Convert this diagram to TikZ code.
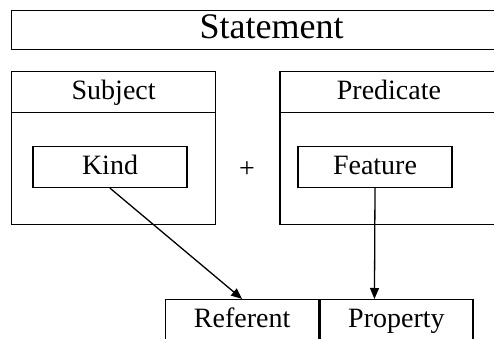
\documentclass[tikz,border=0pt]{standalone}
\usepackage{fontspec}
\setmainfont{Liberation Serif}
\usetikzlibrary{arrows.meta, positioning}

\begin{document}
\begin{tikzpicture}[
  x=1pt, y=-1pt,
  box/.style={draw, line width=1.3pt, inner sep=0pt, align=center,
              font=\fontsize{28}{32}\selectfont,
              text height=21pt, text depth=5.5pt},
  headbox/.style={box, minimum height=41pt},
  partbox/.style={box, minimum width=204pt, minimum height=153pt},
  termbox/.style={box, minimum width=154pt, minimum height=41pt},
  arr/.style={-{Triangle[length=11pt,width=9pt]}, line width=1.3pt},
  node distance=0pt
]
\useasboundingbox (0,0) rectangle (494,339);
\clip (0,0) rectangle (494,339);

\node[headbox, anchor=north west, minimum width=520pt, minimum height=39pt,
      font=\fontsize{36}{40}\selectfont, text height=24pt, text depth=7pt]
  (stmt) at (11,10) {Statement};

% subject and predicate with their title bars
\node[partbox, anchor=north west] (subj) at (11,71) {};
\node[headbox, minimum width=204pt, anchor=north] (subjhead) at (subj.north) {Subject};
\node[partbox, right=63pt of subj, minimum width=218pt] (pred) {};
\node[headbox, minimum width=218pt, anchor=north] (predhead) at (pred.north) {Predicate};

\node[termbox] (kind) at (110,167) {Kind};
\node[termbox] (feat) at (375,167) {Feature};
\node[box, draw=none] (plus) at (247,170) {+};

\node[termbox, anchor=north west, minimum width=153pt] (ref) at (165,299) {Referent};
\node[termbox, right=of ref, minimum width=153pt] (prop) {Property};

\draw[arr] (kind.south) -- (ref.north);
\draw[arr] (feat.south) -- ([xshift=-22pt]prop.north);
\end{tikzpicture}
\end{document}
